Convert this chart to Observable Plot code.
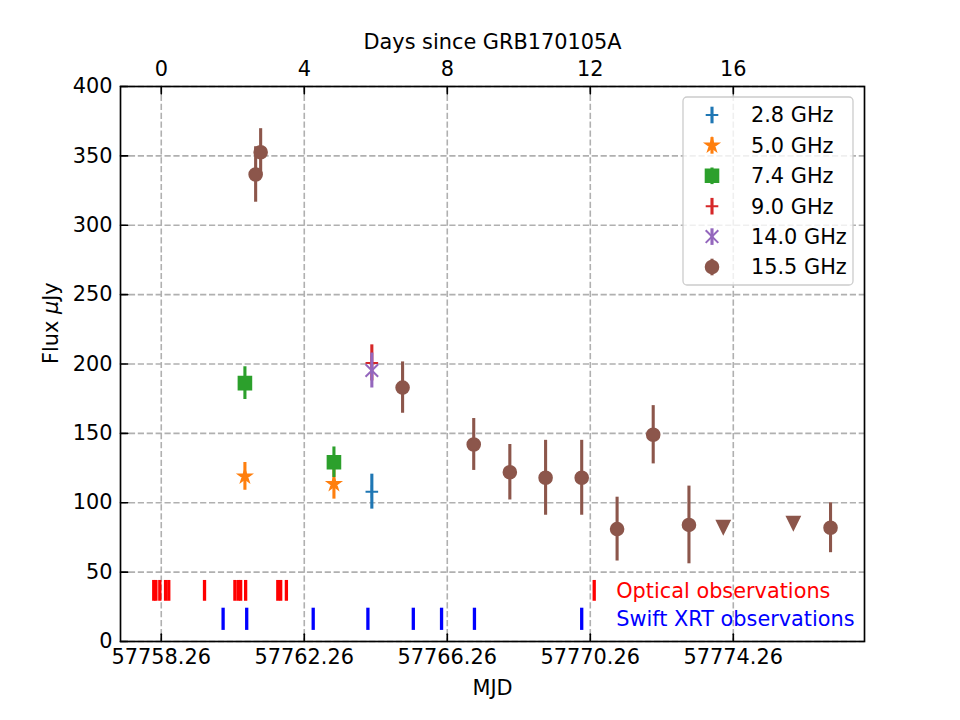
<!DOCTYPE html>
<html>
<head>
<meta charset="utf-8">
<script src="https://cdn.jsdelivr.net/npm/d3@7"></script>
<script src="https://cdn.jsdelivr.net/npm/@observablehq/plot@0.6"></script>
<style>
  body { margin: 0; background: #fff; }
  #chart svg { display: block; }
</style>
</head>
<body>
<div id="chart"></div>
<script>
// ---------- data ----------
const T0 = 57758.26; // MJD of GRB170105A
const bandNames  = ["2.8 GHz", "5.0 GHz", "7.4 GHz", "9.0 GHz", "14.0 GHz", "15.5 GHz"];
const bandColors = ["#1f77b4", "#ff7f0e", "#2ca02c", "#d62728", "#9467bd", "#8c564b"];
const bandMarkers = ["plus", "star", "square", "plus", "times", "circle"];

// detections (days since GRB, flux in μJy, 1σ error)
const obsBand = ["2.8 GHz", "5.0 GHz", "5.0 GHz", "7.4 GHz", "7.4 GHz", "9.0 GHz", "14.0 GHz",
  "15.5 GHz", "15.5 GHz", "15.5 GHz", "15.5 GHz", "15.5 GHz", "15.5 GHz", "15.5 GHz", "15.5 GHz",
  "15.5 GHz", "15.5 GHz", "15.5 GHz"];
const obsDay  = [5.89, 2.34, 4.83, 2.34, 4.83, 5.89, 5.89,
  2.64, 2.78, 6.75, 8.74, 9.75, 10.75, 11.76, 12.75, 13.76, 14.76, 18.72];
const obsFlux = [108, 119, 113.6, 186.2, 129.2, 200.8, 195.3,
  336.6, 352.6, 183, 142, 122, 118, 118, 81, 149, 84, 82];
const obsErr  = [12.6, 10, 11, 11.8, 11, 13, 12.6,
  20, 17, 18.5, 18.7, 20, 27, 27, 23, 21, 28, 18];

// upper limits (15.5 GHz)
const limitBand = ["15.5 GHz", "15.5 GHz"];
const limitDay  = [15.72, 17.68];
const limitFlux = [82.4, 85.3];

// observation epochs (days since GRB)
const opticalDay = [-0.21, -0.15, -0.04, 0.12, 0.21, 1.21, 2.06, 2.15, 2.22, 2.36, 3.26, 3.34, 3.50, 12.11];
const xrtDay     = [1.73, 2.39, 4.25, 5.78, 7.05, 7.84, 8.76, 11.76];
const opticalRange = [29, 44];
const xrtRange     = [8, 24];
const opticalLabel = "Optical observations";
const xrtLabel     = "Swift XRT observations";

// axes
const xDomain = [-1.14, 19.67];
const yDomain = [0, 400];
const xTicks = [0, 4, 8, 12, 16];
const yTicks = [0, 50, 100, 150, 200, 250, 300, 350, 400];
const topLabel = "Days since GRB170105A";
const bottomLabel = "MJD";
const yLabel = "Flux μJy";

// ---------- tables ----------
const obs = obsDay.map((d, i) => ({band: obsBand[i], day: d, flux: obsFlux[i], err: obsErr[i]}));
const limits = limitDay.map((d, i) => ({band: limitBand[i], day: d, flux: limitFlux[i]}));

// ---------- matplotlib-like marker symbols ----------
const rad = s => Math.sqrt(s / Math.PI);
const SYM = {
  plus: {draw(c, s) { const r = rad(s); c.moveTo(-r, 0); c.lineTo(r, 0); c.moveTo(0, -r); c.lineTo(0, r); }},
  times: {draw(c, s) { const r = rad(s); c.moveTo(-r, -r); c.lineTo(r, r); c.moveTo(-r, r); c.lineTo(r, -r); }},
  square: {draw(c, s) { const r = rad(s); c.moveTo(-r, -r); c.lineTo(r, -r); c.lineTo(r, r); c.lineTo(-r, r); c.closePath(); }},
  circle: {draw(c, s) { const r = rad(s); c.moveTo(r, 0); c.arc(0, 0, r, 0, 2 * Math.PI); c.closePath(); }},
  star: {draw(c, s) {
    const r = rad(s), ri = r * 0.381966;
    for (let i = 0; i < 10; i++) {
      const a = Math.PI * i / 5, rr = i % 2 ? ri : r;
      const x = rr * Math.sin(a), y = -rr * Math.cos(a);
      if (i) c.lineTo(x, y); else c.moveTo(x, y);
    }
    c.closePath();
  }},
  triangleDown: {draw(c, s) { const r = rad(s); c.moveTo(-r, -r); c.lineTo(r, -r); c.lineTo(0, r); c.closePath(); }}
};
const strokeOnly = new Set(["plus", "times"]);
const MR = 6.3;       // marker half size (px)
const MEW = 2;        // marker edge width (px)
const ELW = 3.1;      // error bar width (px)
const FS = 20.83;     // font size (px)
const tickShape = {draw(c, l) { c.moveTo(0, 0); c.lineTo(0, -l); }};

// ---------- marks ----------
const marks = [
  Plot.gridX(xTicks, {stroke: "#b0b0b0", strokeOpacity: 1, strokeWidth: 1.6, strokeDasharray: "6.2,2.7"}),
  Plot.gridY(yTicks, {stroke: "#b0b0b0", strokeOpacity: 1, strokeWidth: 1.6, strokeDasharray: "6.2,2.7"}),
  // observation epochs
  Plot.ruleX(opticalDay, {x: d => d, y1: opticalRange[0], y2: opticalRange[1], stroke: "#ff0000", strokeWidth: 3.3}),
  Plot.ruleX(xrtDay, {x: d => d, y1: xrtRange[0], y2: xrtRange[1], stroke: "#0000ff", strokeWidth: 3.3}),
  Plot.text([opticalLabel], {x: d3.max(opticalDay), y: (opticalRange[0] + opticalRange[1]) / 2, text: d => d,
    dx: 22, textAnchor: "start", lineAnchor: "middle", fill: "#ff0000"}),
  Plot.text([xrtLabel], {x: d3.max(opticalDay), y: (xrtRange[0] + xrtRange[1]) / 2, text: d => d,
    dx: 22, textAnchor: "start", lineAnchor: "middle", fill: "#0000ff"})
];

bandNames.forEach((b, k) => {
  const color = bandColors[k], m = bandMarkers[k];
  const data = obs.filter(o => o.band === b);
  marks.push(Plot.ruleX(data, {x: "day", y1: d => d.flux - d.err, y2: d => d.flux + d.err, stroke: color, strokeWidth: ELW}));
  marks.push(Plot.dot(data, {x: "day", y: "flux", symbol: SYM[m], r: MR,
    fill: strokeOnly.has(m) ? "none" : color, stroke: color, strokeWidth: MEW}));
  const lim = limits.filter(o => o.band === b);
  if (lim.length) marks.push(Plot.dot(lim, {x: "day", y: "flux", symbol: SYM.triangleDown, r: MR,
    fill: color, stroke: color, strokeWidth: MEW}));
});

marks.push(
  Plot.frame({stroke: "black", strokeWidth: 1.67}),
  // inward ticks
  Plot.vector(xTicks, {x: d => d, frameAnchor: "bottom", length: 7.3, rotate: 0, anchor: "start", shape: tickShape, stroke: "black", strokeWidth: 1.67}),
  Plot.vector(xTicks, {x: d => d, frameAnchor: "top", length: 7.3, rotate: 180, anchor: "start", shape: tickShape, stroke: "black", strokeWidth: 1.67}),
  Plot.vector(yTicks, {y: d => d, frameAnchor: "left", length: 7.3, rotate: 90, anchor: "start", shape: tickShape, stroke: "black", strokeWidth: 1.67}),
  Plot.axisX(xTicks, {anchor: "bottom", tickSize: 0, tickPadding: 8, tickFormat: d => (T0 + d).toFixed(2), label: null}),
  Plot.axisX(xTicks, {anchor: "top", tickSize: 0, tickPadding: 11, tickFormat: d => String(d), label: null}),
  Plot.axisY(yTicks, {anchor: "left", tickSize: 0, tickPadding: 8, tickFormat: d => String(d), label: null}),
  Plot.text([topLabel], {frameAnchor: "top", dy: -44, lineAnchor: "middle", text: d => d}),
  Plot.text([bottomLabel], {frameAnchor: "bottom", dy: 47, lineAnchor: "middle", text: d => d}),
  Plot.text([yLabel], {frameAnchor: "left", dx: -69, rotate: -90, lineAnchor: "middle", text: d => d})
);

const chart = Plot.plot({
  width: 960,
  height: 720,
  marginLeft: 120,
  marginRight: 96,
  marginTop: 86,
  marginBottom: 79,
  x: {domain: xDomain},
  y: {domain: yDomain},
  style: {fontFamily: "'DejaVu Sans', sans-serif", fontSize: FS + "px", background: "#fff", color: "#000", overflow: "visible"},
  marks
});
document.getElementById("chart").append(chart);

// italic μ in the y label
const svg = d3.select(chart.tagName === "svg" ? chart : chart.querySelector("svg"));
svg.selectAll("text").filter(function () { return this.textContent === yLabel; }).each(function () {
  const t = d3.select(this);
  t.text(null);
  t.append("tspan").text("Flux ");
  t.append("tspan").attr("font-style", "italic").text("μ");
  t.append("tspan").text("Jy");
});

// ---------- legend (inside plot area, upper right) ----------
const lg = svg.append("g").attr("transform", "translate(683,97)");
lg.append("rect").attr("width", 170).attr("height", 188).attr("rx", 4)
  .attr("fill", "#fff").attr("fill-opacity", 0.8).attr("stroke", "#cccccc").attr("stroke-width", 1.3);
bandNames.forEach((b, k) => {
  const cy = 18 + k * 30.4, cx = 29, color = bandColors[k], m = bandMarkers[k];
  const g = lg.append("g").attr("transform", `translate(${cx},${cy})`);
  g.append("line").attr("x1", 0).attr("x2", 0).attr("y1", -8.3).attr("y2", 8.3).attr("stroke", color).attr("stroke-width", ELW);
  if (m === "circle") {
    g.append("circle").attr("r", MR).attr("fill", color).attr("stroke", color).attr("stroke-width", MEW);
  } else {
    g.append("path").attr("d", d3.symbol(SYM[m], Math.PI * MR * MR)())
      .attr("fill", strokeOnly.has(m) ? "none" : color).attr("stroke", color)
      .attr("stroke-width", MEW);
  }
  lg.append("text").attr("x", 68).attr("y", cy).attr("dy", "0.36em").attr("text-anchor", "start")
    .attr("font-family", "'DejaVu Sans', sans-serif").attr("font-size", FS).attr("fill", "#000").text(b);
});
</script>
</body>
</html>
